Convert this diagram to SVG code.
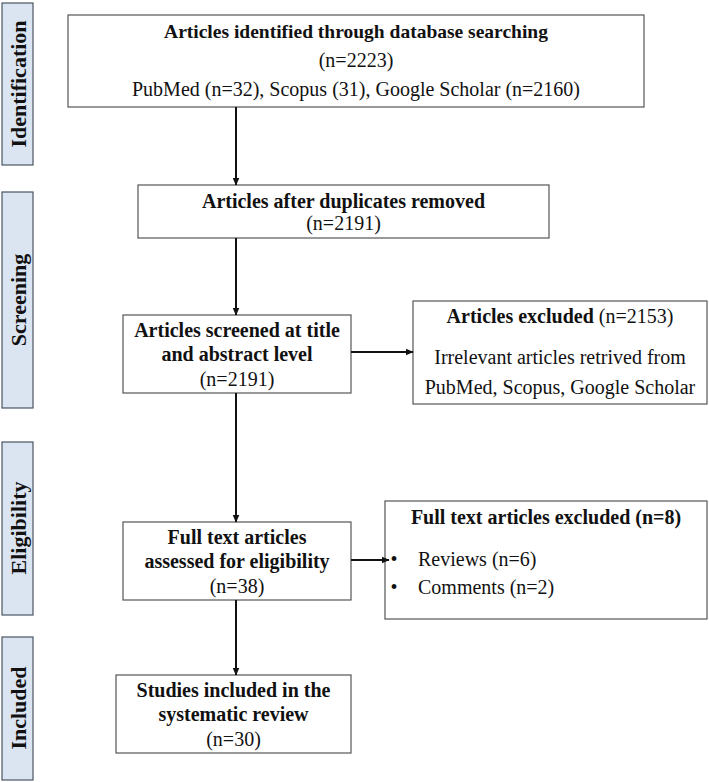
<svg xmlns="http://www.w3.org/2000/svg" width="709" height="782" viewBox="0 0 709 782">
<style>
.side rect{fill:#dbe4f1;stroke:#4a5563;stroke-width:1.2}
.side text{font-family:"Liberation Serif",serif;font-weight:bold;font-size:22px;fill:#111;text-anchor:middle}
.box rect{fill:#fff;stroke:#555;stroke-width:1.2}
.box text{font-family:"Liberation Serif",serif;font-size:20px;fill:#111;text-anchor:middle}
.b{font-weight:bold}
.conn line{stroke:#111;stroke-width:2}
</style>
<defs>
<marker id="ah" markerWidth="8" markerHeight="7" refX="7.5" refY="3.5" orient="auto" markerUnits="userSpaceOnUse">
<path d="M0,0 L8,3.5 L0,7 z" fill="#111"/>
</marker>
</defs>
<rect width="709" height="782" fill="#fff"/>
<g id="side-identification" class="side"><rect x="2" y="3" width="31" height="162"/><text transform="translate(26,84) rotate(-90)">Identification</text></g>
<g id="side-screening" class="side"><rect x="2" y="192" width="31" height="216"/><text transform="translate(26,300) rotate(-90)">Screening</text></g>
<g id="side-eligibility" class="side"><rect x="2" y="442" width="31" height="173"/><text transform="translate(26,528) rotate(-90)">Eligibility</text></g>
<g id="side-included" class="side"><rect x="2" y="637" width="31" height="143"/><text transform="translate(26,708) rotate(-90)">Included</text></g>

<g id="identified" class="box"><rect x="68" y="15" width="576" height="92"/>
<text x="356" y="38" class="b" style="font-size:19.5px">Articles identified through database searching</text>
<text x="356" y="67">(n=2223)</text>
<text x="356" y="96">PubMed (n=32), Scopus (31), Google Scholar (n=2160)</text></g>

<g id="duplicates" class="box"><rect x="138" y="185" width="411" height="53"/>
<text x="343.5" y="208" class="b">Articles after duplicates removed</text>
<text x="343.5" y="230">(n=2191)</text></g>

<g id="screened" class="box"><rect x="123" y="315" width="228" height="78"/>
<text x="237" y="337" class="b">Articles screened at title</text>
<text x="237" y="361" class="b">and abstract level</text>
<text x="237" y="386">(n=2191)</text></g>

<g id="excluded1" class="box"><rect x="413" y="301" width="294" height="103"/>
<text x="560" y="323"><tspan class="b">Articles excluded</tspan> (n=2153)</text>
<text x="560" y="364">Irrelevant articles retrived from</text>
<text x="560" y="394">PubMed, Scopus, Google Scholar</text></g>

<g id="fulltext" class="box"><rect x="123" y="522" width="228" height="78"/>
<text x="237" y="544" class="b">Full text articles</text>
<text x="237" y="568" class="b">assessed for eligibility</text>
<text x="237" y="593">(n=38)</text></g>

<g id="excluded2" class="box"><rect x="385" y="501" width="322" height="118"/>
<text x="546" y="524" class="b">Full text articles excluded (n=8)</text>
<text x="394" y="566">•</text>
<text x="418" y="566" style="text-anchor:start">Reviews (n=6)</text>
<text x="394" y="594">•</text>
<text x="418" y="594" style="text-anchor:start">Comments (n=2)</text></g>

<g id="included" class="box"><rect x="116" y="675" width="235" height="78"/>
<text x="233.5" y="697" class="b">Studies included in the</text>
<text x="233.5" y="721" class="b">systematic review</text>
<text x="233.5" y="746">(n=30)</text></g>

<g id="connectors" class="conn">
<line x1="236" y1="107" x2="236" y2="185" marker-end="url(#ah)"/>
<line x1="236" y1="238" x2="236" y2="315" marker-end="url(#ah)"/>
<line x1="236" y1="393" x2="236" y2="522" marker-end="url(#ah)"/>
<line x1="236" y1="600" x2="236" y2="675" marker-end="url(#ah)"/>
<line x1="351" y1="352" x2="413" y2="352" marker-end="url(#ah)"/>
<line x1="351" y1="560" x2="389" y2="560" marker-end="url(#ah)"/>
</g>
</svg>
